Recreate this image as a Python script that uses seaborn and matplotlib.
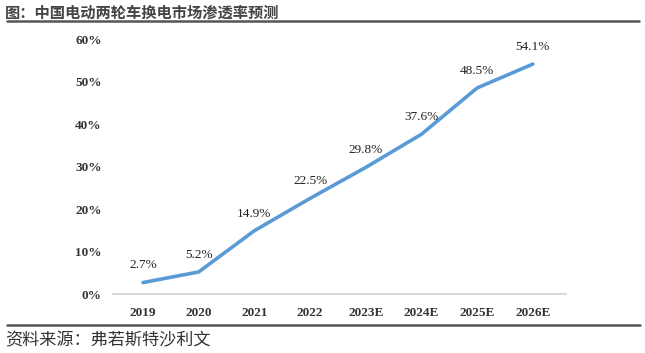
import matplotlib
matplotlib.use('Agg')
import matplotlib.pyplot as plt
import seaborn as sns
import pandas as pd
from matplotlib.lines import Line2D

years = ['2019', '2020', '2021', '2022', '2023E', '2024E', '2025E', '2026E']
rate = [2.7, 5.2, 14.9, 22.5, 29.8, 37.6, 48.5, 54.1]
yticks = [0, 10, 20, 30, 40, 50, 60]

title = '图：中国电动两轮车换电市场渗透率预测'
source = '资料来源：弗若斯特沙利文'

sns.set_style('white')
plt.rcParams['font.family'] = ['Liberation Serif', 'Noto Sans CJK SC']

df = pd.DataFrame({'pos': range(len(years)), 'rate': rate})

fig = plt.figure(figsize=(6.45, 3.53), dpi=100)
ax = fig.add_axes([0.175, 0.167, 0.703, 0.7225])

sns.lineplot(data=df, x='pos', y='rate', color='#5B9BD5', linewidth=2.6, ax=ax)

for i, v in enumerate(rate):
    ax.annotate(f'{v}%', (i, v), xytext=(0, 8), textcoords='offset points',
                ha='center', va='bottom', fontsize=9.5, color='#222222')

ax.set_xlim(-0.54, 7.6)
ax.set_ylim(0, 60)
ax.set_xticks(range(len(years)))
ax.set_xticklabels(years, fontsize=9.5, fontweight='bold', color='#333333')
ax.set_yticks(yticks)
ax.set_yticklabels([f'{t}%' for t in yticks], fontsize=9.5, fontweight='bold', color='#333333')
ax.tick_params(axis='both', length=0)
ax.tick_params(axis='x', pad=9)
ax.tick_params(axis='y', pad=8)
ax.set_xlabel('')
ax.set_ylabel('')
for s in ['top', 'right', 'left']:
    ax.spines[s].set_visible(False)
ax.spines['bottom'].set_color('#d9d9d9')
ax.spines['bottom'].set_linewidth(1.5)

fig.text(0.008, 0.965, title, fontsize=11, fontweight='bold', color='#444444',
         family=['Noto Sans CJK SC'], va='center', ha='left')
fig.add_artist(Line2D([0.011, 0.991], [0.94, 0.94], color='#555555', linewidth=1.8,
                      transform=fig.transFigure))
fig.add_artist(Line2D([0.011, 0.993], [0.079, 0.079], color='#555555', linewidth=1.8,
                      transform=fig.transFigure))
fig.text(0.008, 0.037, source, fontsize=12.3, color='#333333',
         family=['Noto Sans CJK SC'], va='center', ha='left')

fig.savefig('out.png', dpi=100)
